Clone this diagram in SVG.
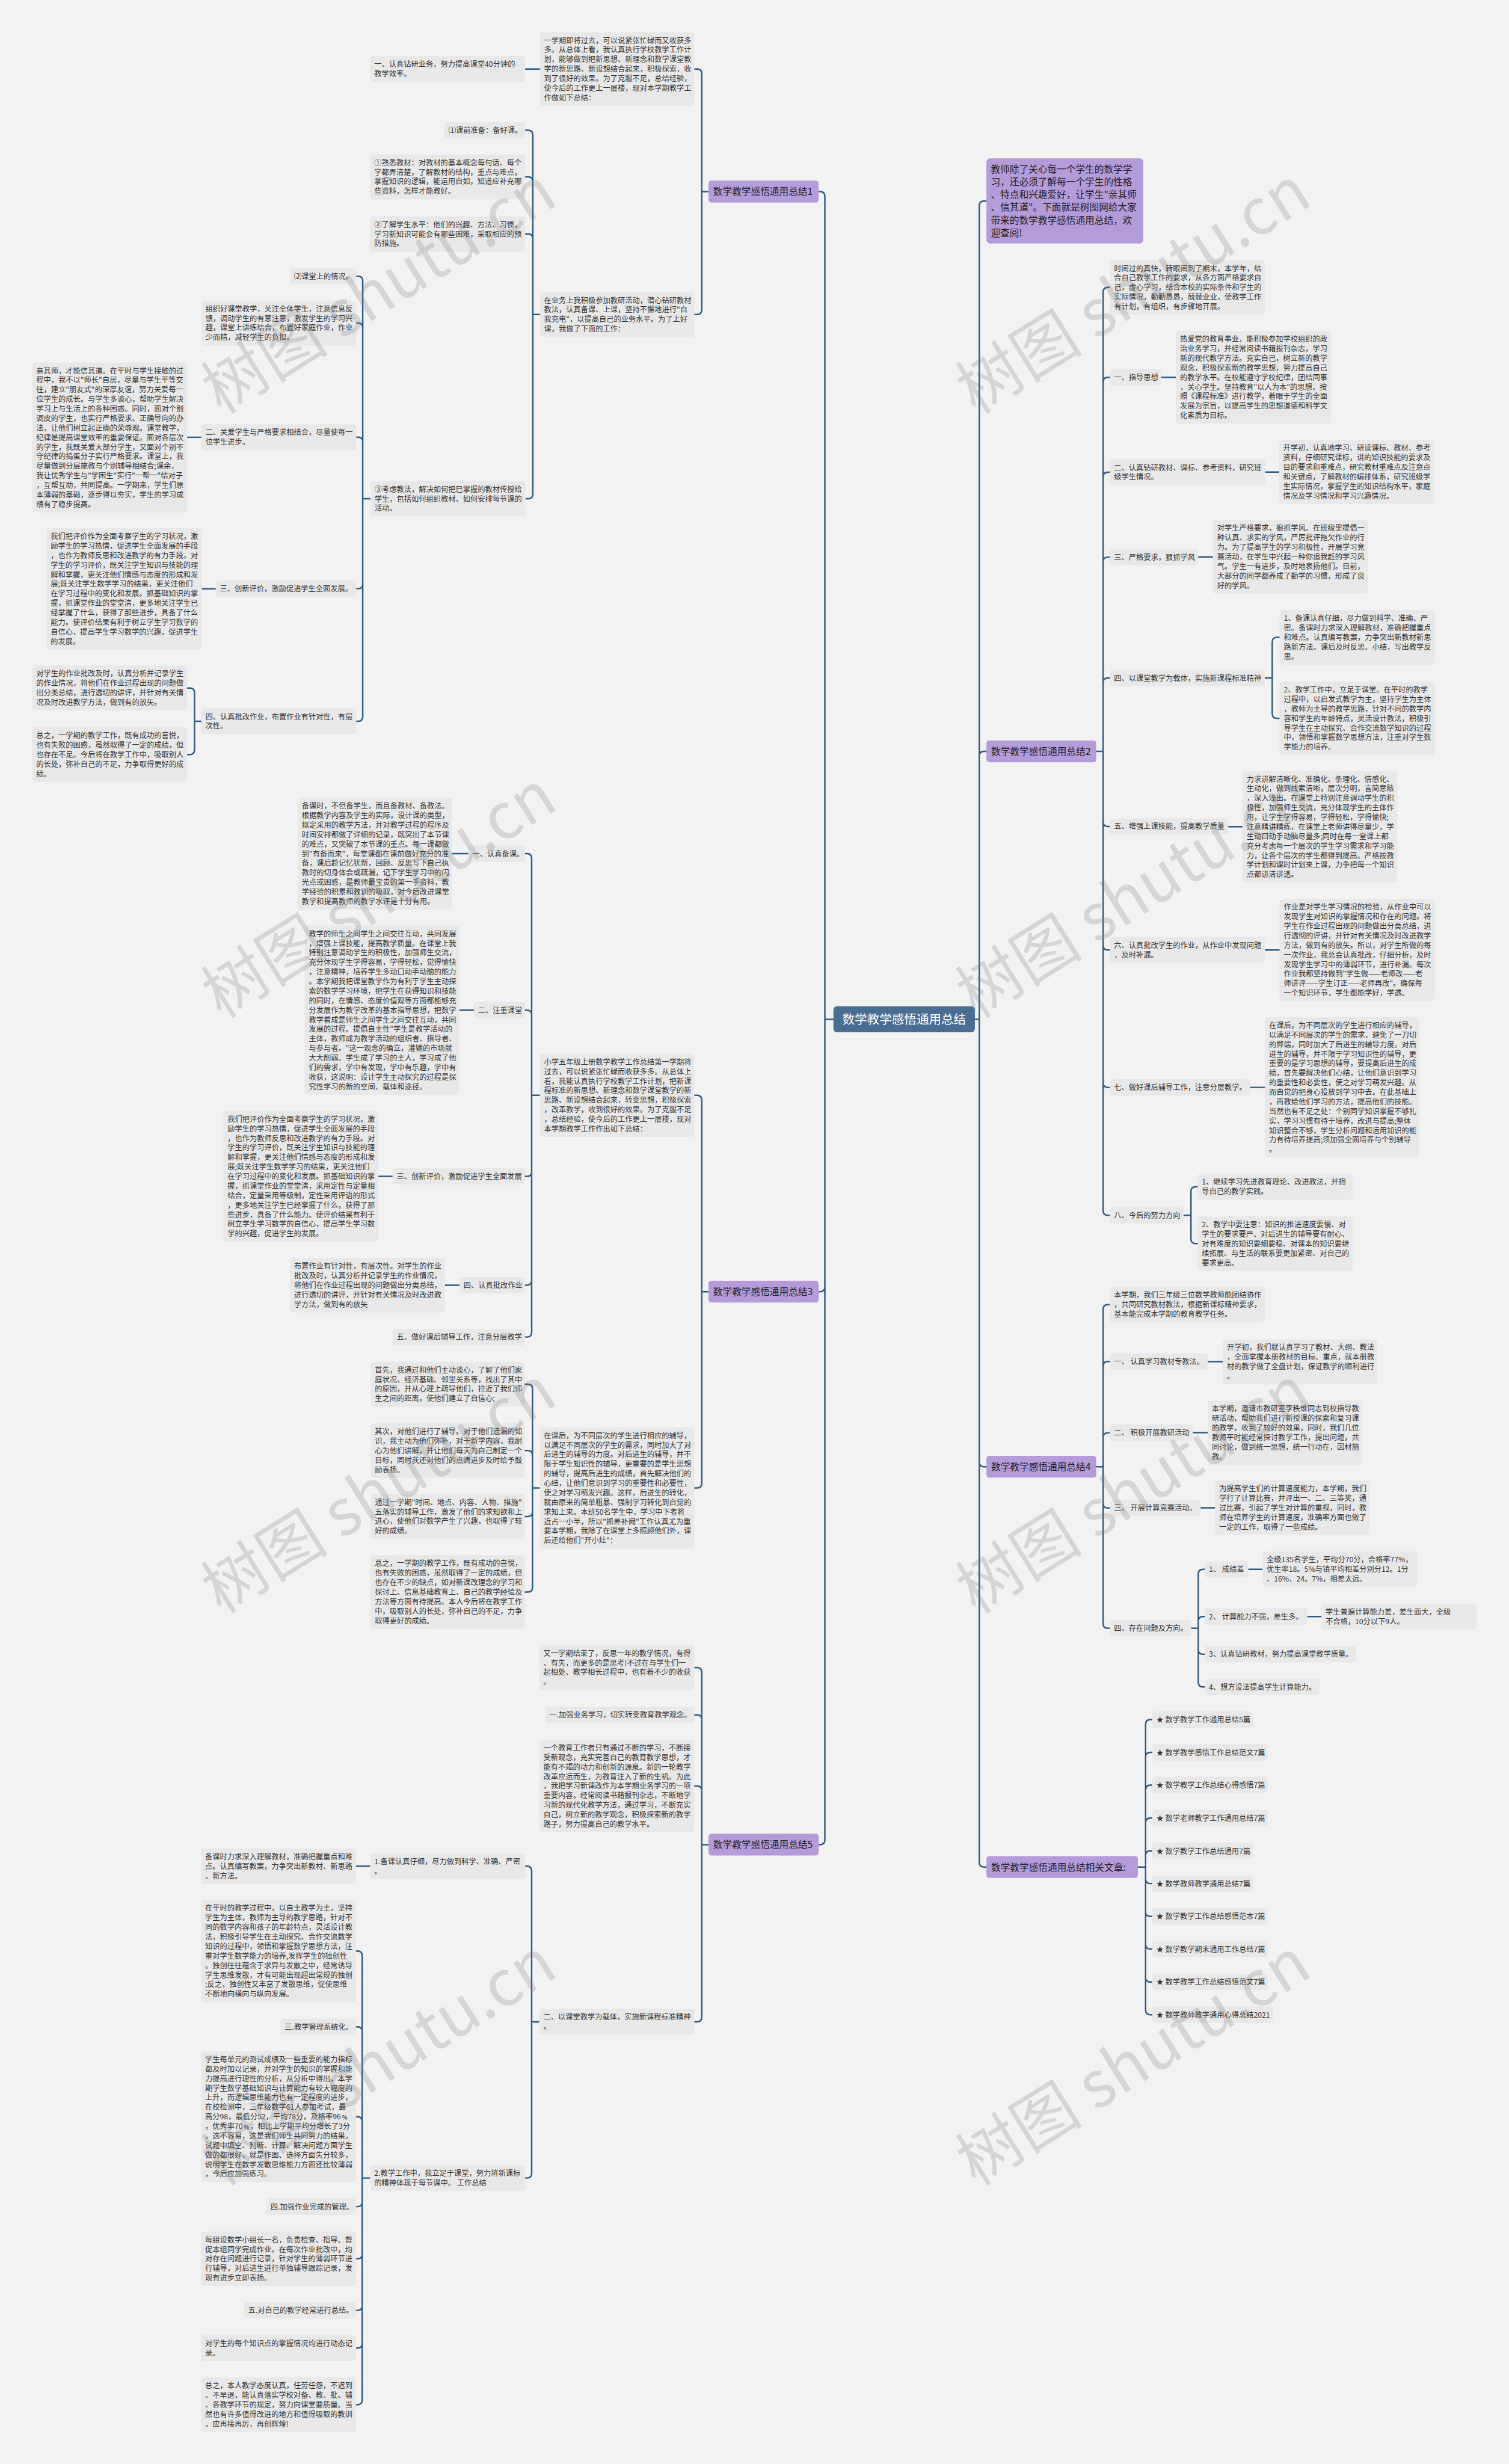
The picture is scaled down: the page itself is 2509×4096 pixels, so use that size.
<svg xmlns="http://www.w3.org/2000/svg" width="2509" height="4096" viewBox="0 0 2509 4096">
<style>
.b{fill:#e8e8e8}
.p{fill:#b49bda}
.r{fill:#4a6d94}
text{font-family:"Noto Sans CJK SC","Liberation Sans",sans-serif}
.t{font-size:12.5px;fill:#333}
.tp{font-size:16px;fill:#222}
.tr{font-size:21px;fill:#fff}
.c{fill:none;stroke:#2d5a86;stroke-width:2.5;stroke-linecap:round}
.wm{font-family:"Liberation Serif","Noto Sans CJK SC",serif;font-size:108px;fill:#7a7a7a;fill-opacity:0.24}
</style>
<rect x="0" y="0" width="2509" height="4096" fill="#f2f2f2"/>
<g transform="scale(0.98)">
<g id="connectors" class="c">
<path d="M1414 1729H1399.5M1399.5 1729V333Q1399.5 325 1391.5 325H1389M1399.5 1729V2183Q1399.5 2191 1391.5 2191H1389M1399.5 1729V3121Q1399.5 3129 1391.5 3129H1389"/>
<path d="M1654 1729H1661.5M1661.5 1729V349Q1661.5 341 1669.5 341H1673.6M1661.5 1729V1282.5Q1661.5 1274.5 1669.5 1274.5H1673.6M1661.5 1729V2480Q1661.5 2488 1669.5 2488H1673.6M1661.5 1729V3159Q1661.5 3167 1669.5 3167H1673.6"/>
<path d="M1202 325H1190.6M1190.6 325V125Q1190.6 117 1182.6 117H1178M1190.6 325V525.5Q1190.6 533.5 1182.6 533.5H1178M916 117H891"/>
<path d="M916 533.5H904M904 533.5V229Q904 221 896 221H891M904 533.5V308Q904 300 896 300H891M904 533.5V405Q904 397 896 397H891M904 533.5V838Q904 846 896 846H891.5"/>
<path d="M628.6 846H615.4M615.4 846V476.5Q615.4 468.5 607.4 468.5H604.5M615.4 846V556Q615.4 548 607.4 548H604.5M615.4 846V749.5Q615.4 741.5 607.4 741.5H604.5M615.4 846V990.5Q615.4 998.5 607.4 998.5H604.5M615.4 846V1215.5Q615.4 1223.5 607.4 1223.5H604.5"/>
<path d="M341.6 741.7H317.5M366 998.7H342.7M341.6 1223.5H330M330 1223.5V1175Q330 1167 322 1167H317.5M330 1223.5V1272Q330 1280 322 1280H317.5"/>
<path d="M1202 2191H1190.6M1190.6 2191V1866Q1190.6 1858 1182.6 1858H1178M1190.6 2191V2516Q1190.6 2524 1182.6 2524H1178"/>
<path d="M916 1858H902M902 1858V1456Q902 1448 894 1448H890.7M902 1858V1721.5Q902 1713.5 894 1713.5H890.7M902 1858V1987.5Q902 1995.5 894 1995.5H890.7M902 1858V2172Q902 2180 894 2180H890.7M902 1858V2260Q902 2268 894 2268H890.7"/>
<path d="M794.6 1448H767M804 1713.5H779.6M666 1995.5H642M779.6 2180H755"/>
<path d="M915.6 2524H903.4M903.4 2524V2356Q903.4 2348 895.4 2348H890.4M903.4 2524V2468.5Q903.4 2460.5 895.4 2460.5H890.4M903.4 2524V2564.5Q903.4 2572.5 895.4 2572.5H890.4M903.4 2524V2692.5Q903.4 2700.5 895.4 2700.5H890.4"/>
<path d="M1202 3129H1190.6M1190.6 3129V2836.5Q1190.6 2828.5 1182.6 2828.5H1178M1190.6 3129V2917Q1190.6 2909 1182.6 2909H1178M1190.6 3129V3037.5Q1190.6 3029.5 1182.6 3029.5H1178M1190.6 3129V3421.5Q1190.6 3429.5 1182.6 3429.5H1178"/>
<path d="M915 3429.5H902M902 3429.5V3173.5Q902 3165.5 894 3165.5H891M902 3429.5V3686.5Q902 3694.5 894 3694.5H891M628 3165.5H604"/>
<path d="M628 3694.5H614.5M614.5 3694.5V3317.5Q614.5 3309.5 606.5 3309.5H604M614.5 3694.5V3446Q614.5 3438 606.5 3438H604M614.5 3694.5V3598.5Q614.5 3590.5 606.5 3590.5H604M614.5 3694.5V3735Q614.5 3743 606.5 3743H604M614.5 3694.5V3823.5Q614.5 3831.5 606.5 3831.5H604M614.5 3694.5V3911Q614.5 3919 606.5 3919H604M614.5 3694.5V3975Q614.5 3983 606.5 3983H604M614.5 3694.5V4071Q614.5 4079 606.5 4079H604"/>
<path d="M1860 1274.5H1871.6M1871.6 1274.5V495.5Q1871.6 487.5 1879.6 487.5H1883M1871.6 1274.5V648Q1871.6 640 1879.6 640H1883M1871.6 1274.5V809Q1871.6 801 1879.6 801H1883M1871.6 1274.5V953Q1871.6 945 1879.6 945H1883M1871.6 1274.5V1158Q1871.6 1150 1879.6 1150H1883M1871.6 1274.5V1394Q1871.6 1402 1879.6 1402H1883M1871.6 1274.5V1603.5Q1871.6 1611.5 1879.6 1611.5H1883M1871.6 1274.5V1836.5Q1871.6 1844.5 1879.6 1844.5H1883M1871.6 1274.5V2053.5Q1871.6 2061.5 1879.6 2061.5H1883"/>
<path d="M1970 640H1995M2147 800.7H2170M2033 944.7H2058M2146 1150H2158.5M2158.5 1150V1089Q2158.5 1081 2166.5 1081H2171M2158.5 1150V1210.5Q2158.5 1218.5 2166.5 1218.5H2171M2084 1402.2H2108M2146 1611.5H2171M2121 1844.5H2146M2008 2061.5H2020.6M2020.6 2061.5V2021Q2020.6 2013 2028.6 2013H2032M2020.6 2061.5V2101.5Q2020.6 2109.5 2028.6 2109.5H2032"/>
<path d="M1860 2488H1871.6M1871.6 2488V2221Q1871.6 2213 1879.6 2213H1883M1871.6 2488V2317.5Q1871.6 2309.5 1879.6 2309.5H1883M1871.6 2488V2438.5Q1871.6 2430.5 1879.6 2430.5H1883M1871.6 2488V2550Q1871.6 2558 1879.6 2558H1883M1871.6 2488V2754Q1871.6 2762 1879.6 2762H1883"/>
<path d="M2049 2309.7H2074.6M2024 2430.2H2049M2037 2557.7H2061.5M2021 2762H2033M2033 2762V2670Q2033 2662 2041 2662H2044M2033 2762V2750Q2033 2742 2041 2742H2044M2033 2762V2798Q2033 2806 2041 2806H2044M2033 2762V2853.5Q2033 2861.5 2041 2861.5H2044M2118 2662H2142M2218 2742H2242"/>
<path d="M1930.5 3167H1943.6M1943.6 3167V2924.8Q1943.6 2916.8 1951.6 2916.8H1954.7M1943.6 3167V2980.5Q1943.6 2972.5 1951.6 2972.5H1954.7M1943.6 3167V3036Q1943.6 3028 1951.6 3028H1954.7M1943.6 3167V3092Q1943.6 3084 1951.6 3084H1954.7M1943.6 3167V3147.6Q1943.6 3139.6 1951.6 3139.6H1954.7M1943.6 3167V3187Q1943.6 3195 1951.6 3195H1954.7M1943.6 3167V3242.7Q1943.6 3250.7 1951.6 3250.7H1954.7M1943.6 3167V3298Q1943.6 3306 1951.6 3306H1954.7M1943.6 3167V3354Q1943.6 3362 1951.6 3362H1954.7M1943.6 3167V3409.5Q1943.6 3417.5 1951.6 3417.5H1954.7"/>
</g>

<g id="root"><rect class="r" x="1414" y="1707" width="240" height="44" rx="6"/><text class="tr" x="1534" y="1736.5" text-anchor="middle">数学教学感悟通用总结</text></g>

<g id="b1"><rect class="p" x="1202" y="306.5" width="187" height="37" rx="5"/><text class="tp" x="1210" y="331">数学教学感悟通用总结1</text></g>
<g id="b1-a"><rect class="b" x="916" y="54.5" width="262" height="125" rx="5"/><text class="t" x="923" y="73"><tspan x="923">一学期即将过去，可以说紧张忙碌而又收获多</tspan><tspan x="923" dy="16.2">多。从总体上看，我认真执行学校教学工作计</tspan><tspan x="923" dy="16.2">划，能够做到把新思想、新理念和数学课堂教</tspan><tspan x="923" dy="16.2">学的新思路、新设想结合起来，积极探索，收</tspan><tspan x="923" dy="16.2">到了很好的效果。为了克服不足，总结经验，</tspan><tspan x="923" dy="16.2">使今后的工作更上一层楼，现对本学期教学工</tspan><tspan x="923" dy="16.2">作做如下总结：</tspan></text></g>
<g id="b1-a1"><rect class="b" x="628" y="95" width="263" height="44" rx="5"/><text class="t" x="635" y="113.4"><tspan x="635">一、认真钻研业务，努力提高课堂40分钟的</tspan><tspan x="635" dy="16.2">教学效率。</tspan></text></g>
<g id="b1-b"><rect class="b" x="916" y="495.4" width="262" height="76.3" rx="5"/><text class="t" x="923" y="513.8"><tspan x="923">在业务上我积极参加教研活动，潜心钻研教材</tspan><tspan x="923" dy="16.2">教法，认真备课、上课，坚持不懈地进行"自</tspan><tspan x="923" dy="16.2">我充电"，以提高自己的业务水平。为了上好</tspan><tspan x="923" dy="16.2">课，我做了下面的工作：</tspan></text></g>
<g id="b1-b1"><rect class="b" x="754" y="207.2" width="137" height="27.7" rx="5"/><text class="t" x="761" y="225.6">⑴课前准备：备好课。</text></g>
<g id="b1-b2"><rect class="b" x="628" y="261.9" width="263" height="76.3" rx="5"/><text class="t" x="635" y="280.3"><tspan x="635">①熟悉教材：对教材的基本概念每句话、每个</tspan><tspan x="635" dy="16.2">字都弄清楚，了解教材的结构，重点与难点，</tspan><tspan x="635" dy="16.2">掌握知识的逻辑，能运用自如，知道应补充哪</tspan><tspan x="635" dy="16.2">些资料，怎样才能教好。</tspan></text></g>
<g id="b1-b3"><rect class="b" x="628" y="367" width="263" height="60.1" rx="5"/><text class="t" x="635" y="385.4"><tspan x="635">②了解学生水平：他们的兴趣、方法、习惯，</tspan><tspan x="635" dy="16.2">学习新知识可能会有哪些困难，采取相应的预</tspan><tspan x="635" dy="16.2">防措施。</tspan></text></g>
<g id="b1-b4"><rect class="b" x="628.6" y="816" width="263" height="60.1" rx="5"/><text class="t" x="635.6" y="834.4"><tspan x="635.6">③考虑教法，解决如何把已掌握的教材传授给</tspan><tspan x="635.6" dy="16.2">学生，包括如何组织教材、如何安排每节课的</tspan><tspan x="635.6" dy="16.2">活动。</tspan></text></g>
<g id="b1-d1"><rect class="b" x="492" y="454.7" width="112.5" height="27.7" rx="5"/><text class="t" x="499" y="473.1">⑵课堂上的情况。</text></g>
<g id="b1-d2"><rect class="b" x="341.6" y="509.9" width="263" height="76.3" rx="5"/><text class="t" x="348.6" y="528.3"><tspan x="348.6">组织好课堂教学，关注全体学生，注意信息反</tspan><tspan x="348.6" dy="16.2">馈，调动学生的有意注意，激发学生的学习兴</tspan><tspan x="348.6" dy="16.2">趣，课堂上讲练结合，布置好家庭作业，作业</tspan><tspan x="348.6" dy="16.2">少而精，减轻学生的负担。</tspan></text></g>
<g id="b1-d3"><rect class="b" x="341.6" y="719.6" width="263" height="43.9" rx="5"/><text class="t" x="348.6" y="738"><tspan x="348.6">二、关爱学生与严格要求相结合，尽量使每一</tspan><tspan x="348.6" dy="16.2">位学生进步。</tspan></text></g>
<g id="b1-d3a"><rect class="b" x="54.5" y="614.8" width="263" height="254.5" rx="5"/><text class="t" x="61.5" y="633.2"><tspan x="61.5">亲其师，才能信其道。在平时与学生接触的过</tspan><tspan x="61.5" dy="16.2">程中，我不以"师长"自居，尽量与学生平等交</tspan><tspan x="61.5" dy="16.2">往，建立"朋友式"的深厚友谊，努力关爱每一</tspan><tspan x="61.5" dy="16.2">位学生的成长。与学生多谈心，帮助学生解决</tspan><tspan x="61.5" dy="16.2">学习上与生活上的各种困惑。同时，面对个别</tspan><tspan x="61.5" dy="16.2">调皮的学生，也实行严格要求、正确导向的办</tspan><tspan x="61.5" dy="16.2">法，让他们树立起正确的荣辱观。课堂教学，</tspan><tspan x="61.5" dy="16.2">纪律是提高课堂效率的重要保证。面对各层次</tspan><tspan x="61.5" dy="16.2">的学生，我既关爱大部分学生，又面对个别不</tspan><tspan x="61.5" dy="16.2">守纪律的捣蛋分子实行严格要求。课堂上，我</tspan><tspan x="61.5" dy="16.2">尽量做到分层施教与个别辅导相结合;课余，</tspan><tspan x="61.5" dy="16.2">我让优秀学生与"学困生"实行"一帮一"结对子</tspan><tspan x="61.5" dy="16.2">，互帮互助，共同提高。一学期来，学生们原</tspan><tspan x="61.5" dy="16.2">本薄弱的基础，逐步得以夯实，学生的学习成</tspan><tspan x="61.5" dy="16.2">绩有了稳步提高。</tspan></text></g>
<g id="b1-d4"><rect class="b" x="366" y="984.7" width="238.5" height="27.7" rx="5"/><text class="t" x="373" y="1003.1">三、创新评价，激励促进学生全面发展。</text></g>
<g id="b1-d4a"><rect class="b" x="79" y="896" width="263.7" height="205.9" rx="5"/><text class="t" x="86" y="914.4"><tspan x="86">我们把评价作为全面考察学生的学习状况，激</tspan><tspan x="86" dy="16.2">励学生的学习热情，促进学生全面发展的手段</tspan><tspan x="86" dy="16.2">，也作为教师反思和改进教学的有力手段。对</tspan><tspan x="86" dy="16.2">学生的学习评价，既关注学生知识与技能的理</tspan><tspan x="86" dy="16.2">解和掌握，更关注他们情感与态度的形成和发</tspan><tspan x="86" dy="16.2">展;既关注学生数学学习的结果，更关注他们</tspan><tspan x="86" dy="16.2">在学习过程中的变化和发展。抓基础知识的掌</tspan><tspan x="86" dy="16.2">握，抓课堂作业的堂堂清，更多地关注学生已</tspan><tspan x="86" dy="16.2">经掌握了什么，获得了那些进步，具备了什么</tspan><tspan x="86" dy="16.2">能力。使评价结果有利于树立学生学习数学的</tspan><tspan x="86" dy="16.2">自信心，提高学生学习数学的兴趣，促进学生</tspan><tspan x="86" dy="16.2">的发展。</tspan></text></g>
<g id="b1-d5"><rect class="b" x="341.6" y="1201.6" width="263" height="43.9" rx="5"/><text class="t" x="348.6" y="1220"><tspan x="348.6">四、认真批改作业，布置作业有针对性，有层</tspan><tspan x="348.6" dy="16.2">次性。</tspan></text></g>
<g id="b1-d5a"><rect class="b" x="54.5" y="1128.9" width="263" height="76.3" rx="5"/><text class="t" x="61.5" y="1147.3"><tspan x="61.5">对学生的作业批改及时，认真分析并记录学生</tspan><tspan x="61.5" dy="16.2">的作业情况，将他们在作业过程出现的问题做</tspan><tspan x="61.5" dy="16.2">出分类总结，进行透切的讲评，并针对有关情</tspan><tspan x="61.5" dy="16.2">况及时改进教学方法，做到有的放矢。</tspan></text></g>
<g id="b1-d5b"><rect class="b" x="54.5" y="1233.8" width="263" height="92.5" rx="5"/><text class="t" x="61.5" y="1252.2"><tspan x="61.5">总之，一学期的教学工作，既有成功的喜悦，</tspan><tspan x="61.5" dy="16.2">也有失败的困惑，虽然取得了一定的成绩，但</tspan><tspan x="61.5" dy="16.2">也存在不足。今后将在教学工作中，吸取别人</tspan><tspan x="61.5" dy="16.2">的长处，弥补自己的不足，力争取得更好的成</tspan><tspan x="61.5" dy="16.2">绩。</tspan></text></g>

<g id="b3"><rect class="p" x="1202" y="2172.5" width="187" height="37" rx="5"/><text class="tp" x="1210" y="2197">数学教学感悟通用总结3</text></g>
<g id="b3-a"><rect class="b" x="916" y="1787.5" width="262" height="141.1" rx="5"/><text class="t" x="923" y="1805.9"><tspan x="923">小学五年级上册数学教学工作总结第一学期将</tspan><tspan x="923" dy="16.2">过去，可以说紧张忙碌而收获多多。从总体上</tspan><tspan x="923" dy="16.2">看，我能认真执行学校教学工作计划，把新课</tspan><tspan x="923" dy="16.2">程标准的新思想、新理念和数学课堂教学的新</tspan><tspan x="923" dy="16.2">思路、新设想结合起来，转变思想，积极探索</tspan><tspan x="923" dy="16.2">，改革教学，收到很好的效果。为了克服不足</tspan><tspan x="923" dy="16.2">，总结经验，使今后的工作更上一层楼，现对</tspan><tspan x="923" dy="16.2">本学期教学工作作出如下总结：</tspan></text></g>
<g id="b3-a1"><rect class="b" x="794.6" y="1434.2" width="96.1" height="27.7" rx="5"/><text class="t" x="801.6" y="1452.6">一、认真备课。</text></g>
<g id="b3-a1a"><rect class="b" x="505" y="1353.2" width="262" height="189.7" rx="5"/><text class="t" x="512" y="1371.6"><tspan x="512">备课时，不但备学生，而且备教材、备教法。</tspan><tspan x="512" dy="16.2">根据教学内容及学生的实际，设计课的类型，</tspan><tspan x="512" dy="16.2">拟定采用的教学方法，并对教学过程的程序及</tspan><tspan x="512" dy="16.2">时间安排都做了详细的记录，既突出了本节课</tspan><tspan x="512" dy="16.2">的难点，又突破了本节课的重点。每一课都做</tspan><tspan x="512" dy="16.2">到"有备而来"，每堂课都在课前做好充分的准</tspan><tspan x="512" dy="16.2">备，课后趁记忆犹新，回顾、反思写下自己执</tspan><tspan x="512" dy="16.2">教时的切身体会或疏漏，记下学生学习中的闪</tspan><tspan x="512" dy="16.2">光点或困惑，是教师最宝贵的第一手资料，教</tspan><tspan x="512" dy="16.2">学经验的积累和教训的吸取，对今后改进课堂</tspan><tspan x="512" dy="16.2">教学和提高教师的教学水评是十分有用。</tspan></text></g>
<g id="b3-a2"><rect class="b" x="804" y="1699.7" width="86.7" height="27.7" rx="5"/><text class="t" x="811" y="1718.1">二、注重课堂</text></g>
<g id="b3-a2a"><rect class="b" x="517" y="1570" width="262.6" height="286.9" rx="5"/><text class="t" x="524" y="1588.4"><tspan x="524">教学的师生之间学生之间交往互动，共同发展</tspan><tspan x="524" dy="16.2">，增强上课技能，提高教学质量。在课堂上我</tspan><tspan x="524" dy="16.2">特别注意调动学生的积极性，加强师生交流，</tspan><tspan x="524" dy="16.2">充分体现学生学得容易，学得轻松，觉得愉快</tspan><tspan x="524" dy="16.2">，注意精神，培养学生多动口动手动脑的能力</tspan><tspan x="524" dy="16.2">。本学期我把课堂教学作为有利于学生主动探</tspan><tspan x="524" dy="16.2">索的数学学习环境，把学生在获得知识和技能</tspan><tspan x="524" dy="16.2">的同时，在情感、态度价值观等方面都能够充</tspan><tspan x="524" dy="16.2">分发展作为教学改革的基本指导思想，把数学</tspan><tspan x="524" dy="16.2">教学看成是师生之间学生之间交往互动，共同</tspan><tspan x="524" dy="16.2">发展的过程。提倡自主性"学生是教学活动的</tspan><tspan x="524" dy="16.2">主体，教师成为教学活动的组织者、指导者、</tspan><tspan x="524" dy="16.2">与参与者。"这一观念的确立，灌输的市场就</tspan><tspan x="524" dy="16.2">大大削弱。学生成了学习的主人，学习成了他</tspan><tspan x="524" dy="16.2">们的需求，学中有发现，学中有乐趣，学中有</tspan><tspan x="524" dy="16.2">收获，这说明：设计学生主动探究的过程是探</tspan><tspan x="524" dy="16.2">究性学习的新的空间、载体和途径。</tspan></text></g>
<g id="b3-a3"><rect class="b" x="666" y="1981.7" width="224.7" height="27.7" rx="5"/><text class="t" x="673" y="2000.1">三、创新评价，激励促进学生全面发展</text></g>
<g id="b3-a3a"><rect class="b" x="379" y="1884.5" width="263" height="222.1" rx="5"/><text class="t" x="386" y="1902.9"><tspan x="386">我们把评价作为全面考察学生的学习状况，激</tspan><tspan x="386" dy="16.2">励学生的学习热情，促进学生全面发展的手段</tspan><tspan x="386" dy="16.2">，也作为教师反思和改进教学的有力手段。对</tspan><tspan x="386" dy="16.2">学生的学习评价，既关注学生知识与技能的理</tspan><tspan x="386" dy="16.2">解和掌握，更关注他们情感与态度的形成和发</tspan><tspan x="386" dy="16.2">展;既关注学生数学学习的结果，更关注他们</tspan><tspan x="386" dy="16.2">在学习过程中的变化和发展。抓基础知识的掌</tspan><tspan x="386" dy="16.2">握，抓课堂作业的堂堂清，采用定性与定量相</tspan><tspan x="386" dy="16.2">结合，定量采用等级制，定性采用评语的形式</tspan><tspan x="386" dy="16.2">，更多地关注学生已经掌握了什么，获得了那</tspan><tspan x="386" dy="16.2">些进步，具备了什么能力。使评价结果有利于</tspan><tspan x="386" dy="16.2">树立学生学习数学的自信心，提高学生学习数</tspan><tspan x="386" dy="16.2">学的兴趣，促进学生的发展。</tspan></text></g>
<g id="b3-a4"><rect class="b" x="779.6" y="2166.2" width="111.1" height="27.7" rx="5"/><text class="t" x="786.6" y="2184.6">四、认真批改作业</text></g>
<g id="b3-a4a"><rect class="b" x="492" y="2133.8" width="263" height="92.5" rx="5"/><text class="t" x="499" y="2152.2"><tspan x="499">布置作业有针对性，有层次性。对学生的作业</tspan><tspan x="499" dy="16.2">批改及时，认真分析并记录学生的作业情况，</tspan><tspan x="499" dy="16.2">将他们在作业过程出现的问题做出分类总结，</tspan><tspan x="499" dy="16.2">进行透切的讲评，并针对有关情况及时改进教</tspan><tspan x="499" dy="16.2">学方法，做到有的放矢</tspan></text></g>
<g id="b3-a5"><rect class="b" x="666" y="2254.2" width="224.7" height="27.7" rx="5"/><text class="t" x="673" y="2272.6">五、做好课后辅导工作，注意分层教学</text></g>
<g id="b3-b"><rect class="b" x="915.6" y="2421.1" width="262.4" height="205.9" rx="5"/><text class="t" x="922.6" y="2439.5"><tspan x="922.6">在课后，为不同层次的学生进行相应的辅导，</tspan><tspan x="922.6" dy="16.2">以满足不同层次的学生的需求，同时加大了对</tspan><tspan x="922.6" dy="16.2">后进生的辅导的力度。对后进生的辅导，并不</tspan><tspan x="922.6" dy="16.2">限于学生知识性的辅导，更重要的是学生思想</tspan><tspan x="922.6" dy="16.2">的辅导，提高后进生的成绩，首先解决他们的</tspan><tspan x="922.6" dy="16.2">心结，让他们意识到学习的重要性和必要性，</tspan><tspan x="922.6" dy="16.2">使之对学习萌发兴趣。这样，后进生的转化，</tspan><tspan x="922.6" dy="16.2">就由原来的简单粗暴、强制学习转化到自觉的</tspan><tspan x="922.6" dy="16.2">求知上来。本班50名学生中，学习中下者将</tspan><tspan x="922.6" dy="16.2">近占一小半，所以"抓差补阙"工作认真尤为重</tspan><tspan x="922.6" dy="16.2">要本学期，我除了在课堂上多照顾他们外，课</tspan><tspan x="922.6" dy="16.2">后还给他们"开小灶"：</tspan></text></g>
<g id="b3-b1"><rect class="b" x="628.9" y="2309.9" width="261.5" height="76.3" rx="5"/><text class="t" x="635.9" y="2328.3"><tspan x="635.9">首先，我通过和他们主动谈心，了解了他们家</tspan><tspan x="635.9" dy="16.2">庭状况、经济基础、邻里关系等，找出了其中</tspan><tspan x="635.9" dy="16.2">的原因，并从心理上疏导他们，拉近了我们师</tspan><tspan x="635.9" dy="16.2">生之间的距离，使他们建立了自信心;</tspan></text></g>
<g id="b3-b2"><rect class="b" x="628.9" y="2414.3" width="261.5" height="92.5" rx="5"/><text class="t" x="635.9" y="2432.7"><tspan x="635.9">其次，对他们进行了辅导。对于他们遗漏的知</tspan><tspan x="635.9" dy="16.2">识，我主动为他们弥补，对于新学内容，我耐</tspan><tspan x="635.9" dy="16.2">心为他们讲解，并让他们每天为自己制定一个</tspan><tspan x="635.9" dy="16.2">目标，同时我还对他们的点滴进步及时给予鼓</tspan><tspan x="635.9" dy="16.2">励表扬。</tspan></text></g>
<g id="b3-b3"><rect class="b" x="628.9" y="2534.4" width="261.5" height="76.3" rx="5"/><text class="t" x="635.9" y="2552.8"><tspan x="635.9">通过一学期"时间、地点、内容、人物、措施"</tspan><tspan x="635.9" dy="16.2">五落实的辅导工作，激发了他们的求知欲和上</tspan><tspan x="635.9" dy="16.2">进心，使他们对数学产生了兴趣，也取得了较</tspan><tspan x="635.9" dy="16.2">好的成绩。</tspan></text></g>
<g id="b3-b4"><rect class="b" x="628.9" y="2638.1" width="261.5" height="124.9" rx="5"/><text class="t" x="635.9" y="2656.5"><tspan x="635.9">总之，一学期的教学工作，既有成功的喜悦，</tspan><tspan x="635.9" dy="16.2">也有失败的困惑，虽然取得了一定的成绩，但</tspan><tspan x="635.9" dy="16.2">也存在不少的缺点，如对新课改理念的学习和</tspan><tspan x="635.9" dy="16.2">探讨上、信息基础教育上、自己的教学经验及</tspan><tspan x="635.9" dy="16.2">方法等方面有待提高。本人今后将在教学工作</tspan><tspan x="635.9" dy="16.2">中，吸取别人的长处，弥补自己的不足，力争</tspan><tspan x="635.9" dy="16.2">取得更好的成绩。</tspan></text></g>

<g id="b5"><rect class="p" x="1202" y="3110.5" width="187" height="37" rx="5"/><text class="tp" x="1210" y="3135">数学教学感悟通用总结5</text></g>
<g id="b5-a"><rect class="b" x="915" y="2790.4" width="263" height="76.3" rx="5"/><text class="t" x="922" y="2808.8"><tspan x="922">又一学期结束了，反思一年的教学情况，有得</tspan><tspan x="922" dy="16.2">、有失，而更多的是思考!不过在与学生们一</tspan><tspan x="922" dy="16.2">起相处、教学相长过程中，也有着不少的收获</tspan><tspan x="922" dy="16.2">。</tspan></text></g>
<g id="b5-b"><rect class="b" x="925" y="2895.2" width="253" height="27.7" rx="5"/><text class="t" x="932" y="2913.6">一.加强业务学习，切实转变教育教学观念。</text></g>
<g id="b5-c"><rect class="b" x="915" y="2950.9" width="263" height="157.3" rx="5"/><text class="t" x="922" y="2969.3"><tspan x="922">一个教育工作者只有通过不断的学习，不断接</tspan><tspan x="922" dy="16.2">受新观念，充实完善自己的教育教学思想，才</tspan><tspan x="922" dy="16.2">能有不竭的动力和创新的源泉。新的一轮教学</tspan><tspan x="922" dy="16.2">改革应运而生，为教育注入了新的生机。为此</tspan><tspan x="922" dy="16.2">，我把学习新课改作为本学期业务学习的一项</tspan><tspan x="922" dy="16.2">重要内容，经常阅读书籍报刊杂志，不断地学</tspan><tspan x="922" dy="16.2">习新的现代化教学方法，通过学习，不断充实</tspan><tspan x="922" dy="16.2">自己，树立新的教学观念，积极探索新的教学</tspan><tspan x="922" dy="16.2">路子，努力提高自己的教学水平。</tspan></text></g>
<g id="b5-d"><rect class="b" x="915" y="3407.6" width="263" height="43.9" rx="5"/><text class="t" x="922" y="3426"><tspan x="922">二、以课堂教学为载体，实施新课程标准精神</tspan><tspan x="922" dy="16.2">。</tspan></text></g>
<g id="b5-d1"><rect class="b" x="628" y="3143.6" width="263" height="43.9" rx="5"/><text class="t" x="635" y="3162"><tspan x="635">1.备课认真仔细，尽力做到科学、准确、严密</tspan><tspan x="635" dy="16.2">。</tspan></text></g>
<g id="b5-d1a"><rect class="b" x="341" y="3135.5" width="263" height="60.1" rx="5"/><text class="t" x="348" y="3153.9"><tspan x="348">备课时力求深入理解教材，准确把握重点和难</tspan><tspan x="348" dy="16.2">点。认真编写教案，力争突出新教材、新思路</tspan><tspan x="348" dy="16.2">、新方法。</tspan></text></g>
<g id="b5-d2"><rect class="b" x="628" y="3672.6" width="263" height="43.9" rx="5"/><text class="t" x="635" y="3691"><tspan x="635">2.教学工作中，我立足于课堂，努力将新课标</tspan><tspan x="635" dy="16.2">的精神体现于每节课中。 工作总结</tspan></text></g>
<g id="b5-e1"><rect class="b" x="341" y="3222.8" width="263" height="173.5" rx="5"/><text class="t" x="348" y="3241.2"><tspan x="348">在平时的教学过程中，以自主教学为主，坚持</tspan><tspan x="348" dy="16.2">学生为主体，教师为主导的教学思路，针对不</tspan><tspan x="348" dy="16.2">同的数学内容和孩子的年龄特点，灵活设计教</tspan><tspan x="348" dy="16.2">法，积极引导学生在主动探究、合作交流数学</tspan><tspan x="348" dy="16.2">知识的过程中，领悟和掌握数学思想方法，注</tspan><tspan x="348" dy="16.2">重对学生数学能力的培养,发挥学生的独创性</tspan><tspan x="348" dy="16.2">。独创往往蕴含于求异与发散之中，经常诱导</tspan><tspan x="348" dy="16.2">学生思维发散，才有可能出现超出常规的独创</tspan><tspan x="348" dy="16.2">;反之，独创性又丰富了发散思维，促使思维</tspan><tspan x="348" dy="16.2">不断地向横向与纵向发展。</tspan></text></g>
<g id="b5-e2"><rect class="b" x="476" y="3424.2" width="128" height="27.7" rx="5"/><text class="t" x="483" y="3442.6">三.教学管理系统化。</text></g>
<g id="b5-e3"><rect class="b" x="341" y="3479.5" width="263" height="222.1" rx="5"/><text class="t" x="348" y="3497.9"><tspan x="348">学生每单元的测试成绩及一些重要的能力指标</tspan><tspan x="348" dy="16.2">都及时加以记录，并对学生的知识的掌握和能</tspan><tspan x="348" dy="16.2">力提高进行理性的分析，从分析中得出，本学</tspan><tspan x="348" dy="16.2">期学生数学基础知识与计算能力有较大幅度的</tspan><tspan x="348" dy="16.2">上升，而逻辑思维能力也有一定程度的进步，</tspan><tspan x="348" dy="16.2">在校检测中，三年级数学61人参加考试，最</tspan><tspan x="348" dy="16.2">高分98，最低分52，平均78分，及格率96﹪</tspan><tspan x="348" dy="16.2">，优秀率70﹪，相比上学期平均分增长了3分</tspan><tspan x="348" dy="16.2">，这不容易，这是我们师生共同努力的结果，</tspan><tspan x="348" dy="16.2">试题中填空、判断、计算、解决问题方面学生</tspan><tspan x="348" dy="16.2">做的都很好，就是作图、选择方面失分较多，</tspan><tspan x="348" dy="16.2">说明学生在数学发散思维能力方面还比较薄弱</tspan><tspan x="348" dy="16.2">，今后应加强练习。</tspan></text></g>
<g id="b5-e4"><rect class="b" x="452" y="3729.2" width="152" height="27.7" rx="5"/><text class="t" x="459" y="3747.6">四.加强作业完成的管理。</text></g>
<g id="b5-e5"><rect class="b" x="341" y="3785.3" width="263" height="92.5" rx="5"/><text class="t" x="348" y="3803.7"><tspan x="348">每组设数学小组长一名，负责检查、指导、督</tspan><tspan x="348" dy="16.2">促本组同学完成作业。在每次作业批改中，均</tspan><tspan x="348" dy="16.2">对存在问题进行记录，针对学生的薄弱环节进</tspan><tspan x="348" dy="16.2">行辅导，对后进生进行单独辅导跟踪记录，发</tspan><tspan x="348" dy="16.2">现有进步立即表扬。</tspan></text></g>
<g id="b5-e6"><rect class="b" x="414" y="3905.2" width="190" height="27.7" rx="5"/><text class="t" x="421" y="3923.6">五.对自己的教学经常进行总结。</text></g>
<g id="b5-e7"><rect class="b" x="341" y="3961.1" width="263" height="43.9" rx="5"/><text class="t" x="348" y="3979.5"><tspan x="348">对学生的每个知识点的掌握情况均进行动态记</tspan><tspan x="348" dy="16.2">录。</tspan></text></g>
<g id="b5-e8"><rect class="b" x="341" y="4032.8" width="263" height="92.5" rx="5"/><text class="t" x="348" y="4051.2"><tspan x="348">总之，本人教学态度认真，任劳任怨，不迟到</tspan><tspan x="348" dy="16.2">、不早退，能认真落实学校对备、教、批、辅</tspan><tspan x="348" dy="16.2">、各教学环节的规定，努力向课堂要质量。当</tspan><tspan x="348" dy="16.2">然也有许多值得改进的地方和值得吸取的教训</tspan><tspan x="348" dy="16.2">，应再接再厉，再创辉煌!</tspan></text></g>

<g id="intro"><rect class="p" x="1673.6" y="268.7" width="266" height="144.3" rx="6"/><text class="tp" x="1681" y="292.8"><tspan x="1681">教师除了关心每一个学生的数学学</tspan><tspan x="1681" dy="21.6">习，还必须了解每一个学生的性格</tspan><tspan x="1681" dy="21.6">、特点和兴趣爱好，让学生"亲其师</tspan><tspan x="1681" dy="21.6">、信其道"。下面就是树图网给大家</tspan><tspan x="1681" dy="21.6">带来的数学教学感悟通用总结，欢</tspan><tspan x="1681" dy="21.6">迎查阅!</tspan></text></g>

<g id="b2"><rect class="p" x="1673.6" y="1256" width="186.4" height="37" rx="5"/><text class="tp" x="1681.6" y="1280.6">数学教学感悟通用总结2</text></g>
<g id="b2-0"><rect class="b" x="1883" y="441.3" width="263" height="92.5" rx="5"/><text class="t" x="1890" y="459.7"><tspan x="1890">时间过的真快，转眼间到了期末，本学年，结</tspan><tspan x="1890" dy="16.2">合自己教学工作的要求，从各方面严格要求自</tspan><tspan x="1890" dy="16.2">己，虚心学习，结合本校的实际条件和学生的</tspan><tspan x="1890" dy="16.2">实际情况，勤勤恳恳，兢兢业业，使教学工作</tspan><tspan x="1890" dy="16.2">有计划，有组织，有步骤地开展。</tspan></text></g>
<g id="b2-1"><rect class="b" x="1883" y="626.2" width="87" height="27.7" rx="5"/><text class="t" x="1890" y="644.6">一、指导思想</text></g>
<g id="b2-1a"><rect class="b" x="1995" y="561.4" width="263" height="157.3" rx="5"/><text class="t" x="2002" y="579.8"><tspan x="2002">热爱党的教育事业，能积极参加学校组织的政</tspan><tspan x="2002" dy="16.2">治业务学习，并经常阅读书籍报刊杂志，学习</tspan><tspan x="2002" dy="16.2">新的现代教学方法。充实自己，树立新的教学</tspan><tspan x="2002" dy="16.2">观念，积极探索新的教学思想，努力提高自己</tspan><tspan x="2002" dy="16.2">的教学水平。在校能遵守学校纪律，团结同事</tspan><tspan x="2002" dy="16.2">，关心学生。坚持教育"以人为本"的思想，按</tspan><tspan x="2002" dy="16.2">照《课程标准》进行教学，着眼于学生的全面</tspan><tspan x="2002" dy="16.2">发展为宗旨，以提高学生的思想道德和科学文</tspan><tspan x="2002" dy="16.2">化素质为目标。</tspan></text></g>
<g id="b2-2"><rect class="b" x="1883" y="779.1" width="264" height="43.9" rx="5"/><text class="t" x="1890" y="797.5"><tspan x="1890">二、认真钻研教材、课标、参考资料，研究班</tspan><tspan x="1890" dy="16.2">级学生情况。</tspan></text></g>
<g id="b2-2a"><rect class="b" x="2170" y="746.2" width="263" height="108.7" rx="5"/><text class="t" x="2177" y="764.6"><tspan x="2177">开学初，认真地学习、研读课标、教材、参考</tspan><tspan x="2177" dy="16.2">资料，仔细研究课标，讲的知识技能的要求及</tspan><tspan x="2177" dy="16.2">目的要求和重难点，研究教材重难点及注意点</tspan><tspan x="2177" dy="16.2">和关键点，了解教材的编排体系，研究班级学</tspan><tspan x="2177" dy="16.2">生实际情况，掌握学生的知识结构水平，家庭</tspan><tspan x="2177" dy="16.2">情况及学习情况和学习兴趣情况。</tspan></text></g>
<g id="b2-3"><rect class="b" x="1883" y="931.2" width="150" height="27.7" rx="5"/><text class="t" x="1890" y="949.6">三、严格要求，狠抓学风</text></g>
<g id="b2-3a"><rect class="b" x="2058" y="882.1" width="263" height="124.9" rx="5"/><text class="t" x="2065" y="900.5"><tspan x="2065">对学生严格要求，狠抓学风。在班级里提倡一</tspan><tspan x="2065" dy="16.2">种认真、求实的学风，严厉批评拖欠作业的行</tspan><tspan x="2065" dy="16.2">为。为了提高学生的学习积极性，开展学习竞</tspan><tspan x="2065" dy="16.2">赛活动，在学生中兴起一种你追我赶的学习风</tspan><tspan x="2065" dy="16.2">气。学生一有进步，及时地表扬他们。目前，</tspan><tspan x="2065" dy="16.2">大部分的同学都养成了勤学的习惯，形成了良</tspan><tspan x="2065" dy="16.2">好的学风。</tspan></text></g>
<g id="b2-4"><rect class="b" x="1883" y="1136.2" width="263" height="27.7" rx="5"/><text class="t" x="1890" y="1154.6">四、以课堂教学为载体，实施新课程标准精神</text></g>
<g id="b2-4a"><rect class="b" x="2171" y="1034.8" width="263" height="92.5" rx="5"/><text class="t" x="2178" y="1053.2"><tspan x="2178">1、备课认真仔细，尽力做到科学、准确、严</tspan><tspan x="2178" dy="16.2">密。备课时力求深入理解教材，准确把握重点</tspan><tspan x="2178" dy="16.2">和难点。认真编写教案，力争突出新教材新思</tspan><tspan x="2178" dy="16.2">路新方法。课后及时反思、小结，写出教学反</tspan><tspan x="2178" dy="16.2">思。</tspan></text></g>
<g id="b2-4b"><rect class="b" x="2171" y="1156.1" width="263" height="124.9" rx="5"/><text class="t" x="2178" y="1174.5"><tspan x="2178">2、教学工作中，立足于课堂。在平时的教学</tspan><tspan x="2178" dy="16.2">过程中，以启发式教学为主，坚持学生为主体</tspan><tspan x="2178" dy="16.2">，教师为主导的教学思路，针对不同的数学内</tspan><tspan x="2178" dy="16.2">容和学生的年龄特点，灵活设计教法，积极引</tspan><tspan x="2178" dy="16.2">导学生在主动探究、合作交流数学知识的过程</tspan><tspan x="2178" dy="16.2">中，领悟和掌握数学思想方法，注重对学生数</tspan><tspan x="2178" dy="16.2">学能力的培养。</tspan></text></g>
<g id="b2-5"><rect class="b" x="1883" y="1388.2" width="201" height="27.7" rx="5"/><text class="t" x="1890" y="1406.6">五、增强上课技能，提高教学质量</text></g>
<g id="b2-5a"><rect class="b" x="2108" y="1307.7" width="263" height="189.7" rx="5"/><text class="t" x="2115" y="1326.1"><tspan x="2115">力求讲解清晰化、准确化、条理化、情感化、</tspan><tspan x="2115" dy="16.2">生动化，做到线索清晰，层次分明，言简意赅</tspan><tspan x="2115" dy="16.2">，深入浅出。在课堂上特别注意调动学生的积</tspan><tspan x="2115" dy="16.2">极性，加强师生交流，充分体现学生的主体作</tspan><tspan x="2115" dy="16.2">用，让学生学得容易，学得轻松，学得愉快;</tspan><tspan x="2115" dy="16.2">注意精讲精练，在课堂上老师讲得尽量少，学</tspan><tspan x="2115" dy="16.2">生动口动手动脑尽量多;同时在每一堂课上都</tspan><tspan x="2115" dy="16.2">充分考虑每一个层次的学生学习需求和学习能</tspan><tspan x="2115" dy="16.2">力，让各个层次的学生都得到提高。严格按教</tspan><tspan x="2115" dy="16.2">学计划和课时计划来上课，力争把每一个知识</tspan><tspan x="2115" dy="16.2">点都讲清讲透。</tspan></text></g>
<g id="b2-6"><rect class="b" x="1883" y="1589.6" width="263" height="43.9" rx="5"/><text class="t" x="1890" y="1608"><tspan x="1890">六、认真批改学生的作业，从作业中发现问题</tspan><tspan x="1890" dy="16.2">，及时补漏。</tspan></text></g>
<g id="b2-6a"><rect class="b" x="2171" y="1524.8" width="263" height="173.5" rx="5"/><text class="t" x="2178" y="1543.2"><tspan x="2178">作业是对学生学习情况的检验，从作业中可以</tspan><tspan x="2178" dy="16.2">发现学生对知识的掌握情况和存在的问题。将</tspan><tspan x="2178" dy="16.2">学生在作业过程出现的问题做出分类总结，进</tspan><tspan x="2178" dy="16.2">行透彻的评讲，并针对有关情况及时改进教学</tspan><tspan x="2178" dy="16.2">方法，做到有的放矢。所以，对学生所做的每</tspan><tspan x="2178" dy="16.2">一次作业，我总会认真批改，仔细分析，及时</tspan><tspan x="2178" dy="16.2">发现学生学习中的薄弱环节，进行补漏。每次</tspan><tspan x="2178" dy="16.2">作业我都坚持做到"学生做——老师改——老</tspan><tspan x="2178" dy="16.2">师讲评——学生订正——老师再改"。确保每</tspan><tspan x="2178" dy="16.2">一个知识环节，学生都能学好，学透。</tspan></text></g>
<g id="b2-7"><rect class="b" x="1883" y="1830.7" width="238" height="27.7" rx="5"/><text class="t" x="1890" y="1849.1">七、做好课后辅导工作，注意分层教学。</text></g>
<g id="b2-7a"><rect class="b" x="2146" y="1725.4" width="262" height="238.3" rx="5"/><text class="t" x="2153" y="1743.8"><tspan x="2153">在课后，为不同层次的学生进行相应的辅导，</tspan><tspan x="2153" dy="16.2">以满足不同层次的学生的需求，避免了一刀切</tspan><tspan x="2153" dy="16.2">的弊端，同时加大了后进生的辅导力度。对后</tspan><tspan x="2153" dy="16.2">进生的辅导，并不限于学习知识性的辅导，更</tspan><tspan x="2153" dy="16.2">重要的是学习思想的辅导，要提高后进生的成</tspan><tspan x="2153" dy="16.2">绩，首先要解决他们心结，让他们意识到学习</tspan><tspan x="2153" dy="16.2">的重要性和必要性，使之对学习萌发兴趣。从</tspan><tspan x="2153" dy="16.2">而自觉的把身心投放到学习中去。在此基础上</tspan><tspan x="2153" dy="16.2">，再教给他们学习的方法，提高他们的技能。</tspan><tspan x="2153" dy="16.2">当然也有不足之处：个别同学知识掌握不够扎</tspan><tspan x="2153" dy="16.2">实，学习习惯有待于培养，改进与提高;整体</tspan><tspan x="2153" dy="16.2">知识整合不够，学生分析问题和运用知识的能</tspan><tspan x="2153" dy="16.2">力有待培养提高;须加强全面培养与个别辅导</tspan><tspan x="2153" dy="16.2">。</tspan></text></g>
<g id="b2-8"><rect class="b" x="1883" y="2047.7" width="125" height="27.7" rx="5"/><text class="t" x="1890" y="2066.1">八、今后的努力方向</text></g>
<g id="b2-8a"><rect class="b" x="2032" y="1991.1" width="263" height="43.9" rx="5"/><text class="t" x="2039" y="2009.5"><tspan x="2039">1、继续学习先进教育理论、改进教法，并指</tspan><tspan x="2039" dy="16.2">导自己的教学实践。</tspan></text></g>
<g id="b2-8b"><rect class="b" x="2032" y="2063.3" width="263" height="92.5" rx="5"/><text class="t" x="2039" y="2081.7"><tspan x="2039">2、教学中要注意：知识的推进速度要慢、对</tspan><tspan x="2039" dy="16.2">学生的要求要严、对后进生的辅导要有耐心、</tspan><tspan x="2039" dy="16.2">对有难度的知识要细要稳、对课本的知识要继</tspan><tspan x="2039" dy="16.2">续拓展、与生活的联系要更加紧密、对自己的</tspan><tspan x="2039" dy="16.2">要求更高。</tspan></text></g>

<g id="b4"><rect class="p" x="1673.6" y="2469.5" width="186.4" height="37" rx="5"/><text class="tp" x="1681.6" y="2494">数学教学感悟通用总结4</text></g>
<g id="b4-0"><rect class="b" x="1883" y="2183" width="263" height="60.1" rx="5"/><text class="t" x="1890" y="2201.4"><tspan x="1890">本学期，我们三年级三位数学教师能团结协作</tspan><tspan x="1890" dy="16.2">，共同研究教材教法，根据新课标精神要求，</tspan><tspan x="1890" dy="16.2">基本能完成本学期的教育教学任务。</tspan></text></g>
<g id="b4-1"><rect class="b" x="1883" y="2295.7" width="166" height="27.7" rx="5"/><text class="t" x="1890" y="2314.1">一、 认真学习教材专教法。</text></g>
<g id="b4-1a"><rect class="b" x="2074.6" y="2271.9" width="262" height="76.3" rx="5"/><text class="t" x="2081.6" y="2290.3"><tspan x="2081.6">开学初，我们就认真学习了教材、大纲、教法</tspan><tspan x="2081.6" dy="16.2">，全面掌握本册教材的目标、重点，就本册教</tspan><tspan x="2081.6" dy="16.2">材的教学做了全盘计划，保证教学的顺利进行</tspan><tspan x="2081.6" dy="16.2">。</tspan></text></g>
<g id="b4-2"><rect class="b" x="1883" y="2416.7" width="141" height="27.7" rx="5"/><text class="t" x="1890" y="2435.1">二、 积极开展教研活动</text></g>
<g id="b4-2a"><rect class="b" x="2049" y="2375.7" width="262" height="108.7" rx="5"/><text class="t" x="2056" y="2394.1"><tspan x="2056">本学期，邀请市教研室李秩维同志到校指导教</tspan><tspan x="2056" dy="16.2">研活动，帮助我们进行新授课的探索和复习课</tspan><tspan x="2056" dy="16.2">的教学，收到了较好的效果，同时，我们几位</tspan><tspan x="2056" dy="16.2">教师平时能经常探讨教学工作，提出问题，共</tspan><tspan x="2056" dy="16.2">同讨论，做到统一思想，统一行动在，因材施</tspan><tspan x="2056" dy="16.2">教。</tspan></text></g>
<g id="b4-3"><rect class="b" x="1883" y="2544.2" width="154" height="27.7" rx="5"/><text class="t" x="1890" y="2562.6">三、 开展计算竞赛活动。</text></g>
<g id="b4-3a"><rect class="b" x="2061.5" y="2511.3" width="262.5" height="92.5" rx="5"/><text class="t" x="2068.5" y="2529.7"><tspan x="2068.5">为提高学生们的计算速度能力，本学期，我们</tspan><tspan x="2068.5" dy="16.2">学行了计算比赛，并评出一、二、三等奖，通</tspan><tspan x="2068.5" dy="16.2">过比赛，引起了学生对计算的重视，同时，教</tspan><tspan x="2068.5" dy="16.2">师在培养学生的计算速度，准确率方面也做了</tspan><tspan x="2068.5" dy="16.2">一定的工作，取得了一些成绩。</tspan></text></g>
<g id="b4-4"><rect class="b" x="1883" y="2748.2" width="138" height="27.7" rx="5"/><text class="t" x="1890" y="2766.6">四、存在问题及方向。</text></g>
<g id="b4-4a"><rect class="b" x="2044" y="2648.2" width="74" height="27.7" rx="5"/><text class="t" x="2051" y="2666.6">1、 成绩差</text></g>
<g id="b4-4a1"><rect class="b" x="2142" y="2632" width="263" height="60.1" rx="5"/><text class="t" x="2149" y="2650.4"><tspan x="2149">全级135名学生，平均分70分，合格率77%，</tspan><tspan x="2149" dy="16.2">优生率18。5%与镇平均相差分别分12。1分</tspan><tspan x="2149" dy="16.2">、16%、24。7%，相差太远。</tspan></text></g>
<g id="b4-4b"><rect class="b" x="2044" y="2728.2" width="174" height="27.7" rx="5"/><text class="t" x="2051" y="2746.6">2、 计算能力不强，差生多。</text></g>
<g id="b4-4b1"><rect class="b" x="2242" y="2720.1" width="263" height="43.9" rx="5"/><text class="t" x="2249" y="2738.5"><tspan x="2249">学生普遍计算能力差，差生面大，全级</tspan><tspan x="2249" dy="16.2">不合格，10分以下9人。</tspan></text></g>
<g id="b4-4c"><rect class="b" x="2044" y="2792.2" width="257" height="27.7" rx="5"/><text class="t" x="2051" y="2810.6">3、认真钻研教材，努力提高课堂教学质量。</text></g>
<g id="b4-4d"><rect class="b" x="2044" y="2847.7" width="195" height="27.7" rx="5"/><text class="t" x="2051" y="2866.1">4、想方设法提高学生计算能力。</text></g>

<g id="b6"><rect class="p" x="1673.6" y="3148.5" width="257" height="37" rx="5"/><text class="tp" x="1681.6" y="3173">数学教学感悟通用总结相关文章:</text></g>
<g id="b6-1"><rect class="b" x="1954.7" y="2902.8" width="171" height="28" rx="5"/><text class="t" x="1961.7" y="2921.6">★ 数学教学工作通用总结5篇</text></g>
<g id="b6-2"><rect class="b" x="1954.7" y="2958.5" width="196" height="28" rx="5"/><text class="t" x="1961.7" y="2977.3">★ 数学教学感悟工作总结范文7篇</text></g>
<g id="b6-3"><rect class="b" x="1954.7" y="3014" width="196" height="28" rx="5"/><text class="t" x="1961.7" y="3032.8">★ 数学教学工作总结心得感悟7篇</text></g>
<g id="b6-4"><rect class="b" x="1954.7" y="3070" width="196" height="28" rx="5"/><text class="t" x="1961.7" y="3088.8">★ 数学老师教学工作通用总结7篇</text></g>
<g id="b6-5"><rect class="b" x="1954.7" y="3125.6" width="171" height="28" rx="5"/><text class="t" x="1961.7" y="3144.4">★ 数学教学工作总结通用7篇</text></g>
<g id="b6-6"><rect class="b" x="1954.7" y="3181" width="171" height="28" rx="5"/><text class="t" x="1961.7" y="3199.8">★ 数学教师教学通用总结7篇</text></g>
<g id="b6-7"><rect class="b" x="1954.7" y="3236.7" width="196" height="28" rx="5"/><text class="t" x="1961.7" y="3255.5">★ 数学教学工作总结感悟范本7篇</text></g>
<g id="b6-8"><rect class="b" x="1954.7" y="3292" width="196" height="28" rx="5"/><text class="t" x="1961.7" y="3310.8">★ 数学教学期末通用工作总结7篇</text></g>
<g id="b6-9"><rect class="b" x="1954.7" y="3348" width="196" height="28" rx="5"/><text class="t" x="1961.7" y="3366.8">★ 数学教学工作总结感悟范文7篇</text></g>
<g id="b6-10"><rect class="b" x="1954.7" y="3403.5" width="205" height="28" rx="5"/><text class="t" x="1961.7" y="3422.3">★ 数学教师教学通用心得总结2021</text></g>

<g id="watermark" class="wm" text-anchor="end">
<text x="950" y="345" transform="rotate(-32 950 345)">树图 shutu.cn</text>
<text x="2230" y="345" transform="rotate(-32 2230 345)">树图 shutu.cn</text>
<text x="950" y="1370" transform="rotate(-32 950 1370)">树图 shutu.cn</text>
<text x="2230" y="1370" transform="rotate(-32 2230 1370)">树图 shutu.cn</text>
<text x="950" y="2380" transform="rotate(-32 950 2380)">树图 shutu.cn</text>
<text x="2230" y="2380" transform="rotate(-32 2230 2380)">树图 shutu.cn</text>
<text x="950" y="3350" transform="rotate(-32 950 3350)">树图 shutu.cn</text>
<text x="2230" y="3350" transform="rotate(-32 2230 3350)">树图 shutu.cn</text>
</g>
</g>
</svg>
